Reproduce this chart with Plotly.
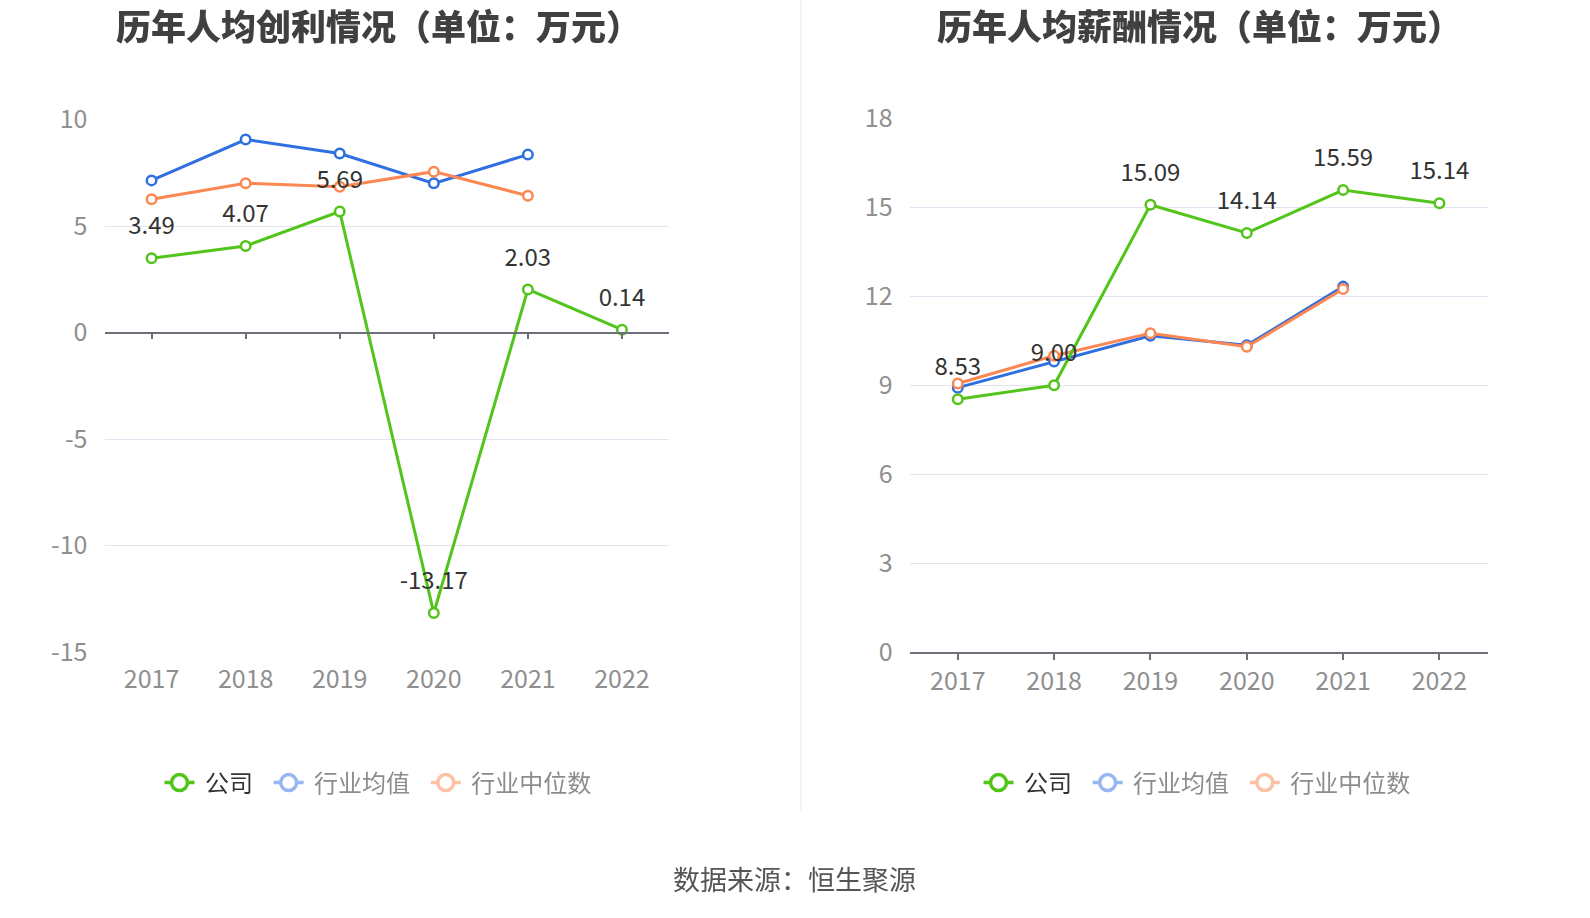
import plotly.graph_objects as go

# ---------------- data ----------------
years = [2017, 2018, 2019, 2020, 2021, 2022]
profit_company = [3.49, 4.07, 5.69, -13.17, 2.03, 0.14]
profit_avg = [7.15, 9.07, 8.41, 7.01, 8.36, None]
profit_median = [6.26, 7.02, 6.85, 7.56, 6.43, None]
salary_company = [8.53, 9.00, 15.09, 14.14, 15.59, 15.14]
salary_avg = [8.92, 9.80, 10.67, 10.35, 12.33, None]
salary_median = [9.06, 10.00, 10.76, 10.30, 12.25, None]
profit_ticks = [10, 5, 0, -5, -10, -15]
salary_ticks = [18, 15, 12, 9, 6, 3, 0]
series_names = ["公司", "行业均值", "行业中位数"]
chart_titles = ["历年人均创利情况（单位：万元）", "历年人均薪酬情况（单位：万元）"]
source_text = "数据来源：恒生聚源"

# ---------------- styles ----------------
FONT = "Noto Sans CJK SC, Noto Sans, sans-serif"
colors = ["#52c41a", "#2f6fe0", "#fb8752"]
faded = ["#52c41a", "#97b7f1", "#fdc2a6"]
legend_text_colors = ["#333333", "#8c8c8c", "#8c8c8c"]
legend_pad = ["&nbsp;&nbsp;", "&nbsp;&nbsp;", ""]
GRID = "#e0e6f1"
AXIS = "#6e7079"
TICKFONT = dict(family=FONT, size=25, color="#8f8f8f")

fig = go.Figure()

def add_series(xa, ya, company, avg, median):
    for vals, c in [(avg, colors[1]), (median, colors[2]), (company, colors[0])]:
        fig.add_trace(go.Scatter(
            x=years, y=vals, xaxis=xa, yaxis=ya, mode="lines+markers",
            line=dict(color=c, width=3),
            marker=dict(symbol="circle", size=9.5, color="white", line=dict(color=c, width=2.5)),
            showlegend=False, hoverinfo="skip", cliponaxis=False,
        ))
    # value labels for the company series
    fig.add_trace(go.Scatter(
        x=years, y=company, xaxis=xa, yaxis=ya, mode="markers+text",
        marker=dict(size=27, color="rgba(0,0,0,0)"),
        text=[f"{v:.2f}" for v in company], textposition="top center",
        textfont=dict(family=FONT, size=24, color="#333333"),
        showlegend=False, hoverinfo="skip", cliponaxis=False,
    ))

add_series("x", "y", profit_company, profit_avg, profit_median)
add_series("x2", "y2", salary_company, salary_avg, salary_median)

# invisible trace to anchor the zero-line axis
fig.add_trace(go.Scatter(x=years, y=profit_company, xaxis="x3", yaxis="y",
                         mode="markers", opacity=0, showlegend=False, hoverinfo="skip"))

# legend entries
for lg, xa, ya in [("legend", "x", "y"), ("legend2", "x2", "y2")]:
    for i, nm in enumerate(series_names):
        fig.add_trace(go.Scatter(
            x=[None], y=[None], xaxis=xa, yaxis=ya, mode="lines+markers",
            name=f'&nbsp;<span style="color:{legend_text_colors[i]}">{nm}</span>{legend_pad[i]}',
            line=dict(color=faded[i], width=3.5),
            marker=dict(symbol="circle", size=18, color="white", line=dict(color=faded[i], width=3.5)),
            legend=lg, showlegend=True,
        ))

yd_top_l = 1 - 119.7 / 918
yd_top_r = 1 - 118.6 / 918
yd_bot = 1 - 652 / 918
zero_pos = yd_bot + (15 / 25) * (yd_top_l - yd_bot)

xrange = [years[0] - 0.5, years[-1] + 0.5]

fig.update_layout(
    width=1590, height=918,
    margin=dict(l=0, r=0, t=0, b=0, autoexpand=False),
    paper_bgcolor="white", plot_bgcolor="white",
    font=dict(family=FONT),
    xaxis=dict(domain=[104.5 / 1590, 669 / 1590], anchor="y", range=xrange, tickvals=years,
               showgrid=False, zeroline=False, showline=False, ticks="", automargin=False,
               tickfont=TICKFONT, ticklabelstandoff=10),
    yaxis=dict(domain=[yd_bot, yd_top_l], anchor="x", range=[-15, 10], tickvals=profit_ticks,
               ticktext=[str(t) for t in profit_ticks], automargin=False,
               showgrid=True, gridcolor=GRID, gridwidth=1, zeroline=False, showline=False,
               tickfont=TICKFONT, ticklabelstandoff=16),
    xaxis3=dict(overlaying="x", anchor="free", position=zero_pos, range=xrange, tickvals=years,
                showgrid=False, zeroline=False, showline=True, linecolor=AXIS, linewidth=1.5,
                ticks="outside", ticklen=6, tickcolor=AXIS, tickwidth=1.5, showticklabels=False,
                automargin=False),
    xaxis2=dict(domain=[909.6 / 1590, 1487.6 / 1590], anchor="y2", range=xrange, tickvals=years,
                showgrid=False, zeroline=False, showline=True, linecolor=AXIS, linewidth=1.5,
                ticks="outside", ticklen=6, tickcolor=AXIS, tickwidth=1.5, automargin=False,
                tickfont=TICKFONT, ticklabelstandoff=0),
    yaxis2=dict(domain=[yd_bot, yd_top_r], anchor="x2", range=[0, 18], tickvals=salary_ticks,
                ticktext=[str(t) for t in salary_ticks], automargin=False,
                showgrid=True, gridcolor=GRID, gridwidth=1, zeroline=False, showline=False,
                tickfont=TICKFONT, ticklabelstandoff=16),
    legend=dict(orientation="h", x=378 / 1590, y=1 - 783 / 918, xanchor="center", yanchor="middle",
                font=dict(family=FONT, size=24, color="#333333"), bgcolor="rgba(0,0,0,0)",
                itemclick=False, itemdoubleclick=False),
    legend2=dict(orientation="h", x=1197 / 1590, y=1 - 783 / 918, xanchor="center", yanchor="middle",
                 font=dict(family=FONT, size=24, color="#333333"), bgcolor="rgba(0,0,0,0)",
                 itemclick=False, itemdoubleclick=False),
    showlegend=True,
)

for title, cx in zip(chart_titles, [378, 1199]):
    fig.add_annotation(text=title, x=cx / 1590, y=1 - 25 / 918, xref="paper", yref="paper",
                       showarrow=False, xanchor="center", yanchor="middle",
                       font=dict(family=FONT, size=35, color="#404040", weight=900))
fig.add_annotation(text=source_text, x=794 / 1590, y=1 - 878 / 918, xref="paper", yref="paper",
                   showarrow=False, xanchor="center", yanchor="middle",
                   font=dict(family=FONT, size=27, color="#555555"))

fig.add_shape(type="line", xref="paper", yref="paper", x0=801 / 1590, x1=801 / 1590,
              y0=1 - 811 / 918, y1=1, line=dict(color="#ebebeb", width=1))

fig.write_html("out.html", post_script="document.body.style.margin='0';",
               config={"displayModeBar": False})
